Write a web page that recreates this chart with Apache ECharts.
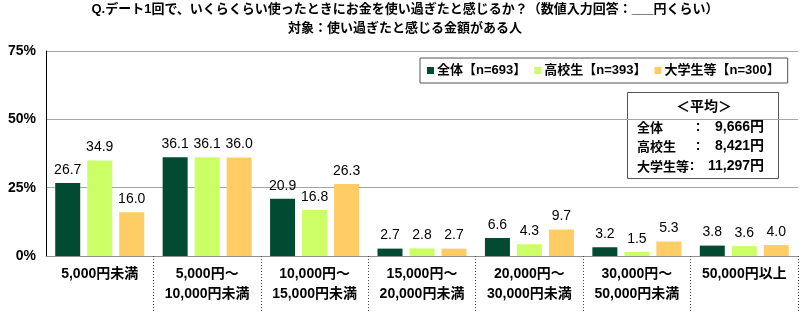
<!DOCTYPE html>
<html>
<head>
<meta charset="utf-8">
<script src="https://cdn.jsdelivr.net/npm/echarts@6/dist/echarts.min.js"></script>
<style>
  html, body { margin: 0; padding: 0; background: #fff; }
  #chart { width: 810px; height: 323px; }
</style>
</head>
<body>
<div id="chart"></div>
<script>
// Spending amounts at which a date feels too expensive
const categories = [
  '5,000円未満',
  '5,000円～\n10,000円未満',
  '10,000円～\n15,000円未満',
  '15,000円～\n20,000円未満',
  '20,000円～\n30,000円未満',
  '30,000円～\n50,000円未満',
  '50,000円以上'
];
const seriesNames = ['全体【n=693】', '高校生【n=393】', '大学生等【n=300】'];
const totalValues = [26.7, 36.1, 20.9, 2.7, 6.6, 3.2, 3.8];
const highSchoolValues = [34.9, 36.1, 16.8, 2.8, 4.3, 1.5, 3.6];
const universityValues = [16.0, 36.0, 26.3, 2.7, 9.7, 5.3, 4.0];
const yTicks = [0, 25, 50, 75];
const titleLines = [
  'Q.デート1回で、いくらくらい使ったときにお金を使い過ぎたと感じるか？（数値入力回答：___円くらい）',
  '対象：使い過ぎたと感じる金額がある人'
];
const averageHeading = '＜平均＞';
const averageLabels = ['全体', '高校生', '大学生等'];
const averageValues = ['9,666円', '8,421円', '11,297円'];

const colors = ['#024B32', '#CCFF66', '#FFCC66'];
const jpFont = '"Noto Sans CJK JP", sans-serif';
const mixFont = '"Liberation Sans", "Noto Sans CJK JP", sans-serif';
const numFont = '"Liberation Sans", Arial, sans-serif';

const chart = echarts.init(document.getElementById('chart'), null, { renderer: 'canvas' });

function barSeries(name, data, color) {
  return {
    name: name,
    type: 'bar',
    data: data,
    barWidth: 25,
    barGap: '28%',
    itemStyle: { color: color },
    label: {
      show: true,
      position: 'top',
      distance: 6,
      formatter: (p) => p.value.toFixed(1),
      fontFamily: numFont,
      fontSize: 14,
      color: '#000'
    }
  };
}

// Average amount panel
const avgFont = 'bold 14px ' + mixFont;
const avgChildren = [
  {
    type: 'rect',
    shape: { x: 627.5, y: 92.5, width: 151, height: 86 },
    style: { fill: '#fff', stroke: '#555', lineWidth: 1 }
  },
  {
    type: 'text',
    style: {
      x: 704, y: 106, text: averageHeading, align: 'center', verticalAlign: 'middle',
      font: 'bold 14px ' + jpFont, fill: '#000'
    }
  }
];
averageLabels.forEach((lab, i) => {
  const y = 127 + i * 19.5;
  const last = i === averageLabels.length - 1;
  avgChildren.push({
    type: 'text',
    style: {
      x: 637, y: y, text: lab, align: 'left', verticalAlign: 'middle',
      font: 'bold 13px ' + jpFont, fill: '#000'
    }
  });
  avgChildren.push({
    type: 'text',
    style: {
      x: last ? 692 : 698, y: y, text: ':', align: 'center', verticalAlign: 'middle',
      font: avgFont, fill: '#000'
    }
  });
  avgChildren.push({
    type: 'text',
    style: {
      x: 764, y: y, text: averageValues[i], align: 'right', verticalAlign: 'middle',
      font: avgFont, fill: '#000'
    }
  });
});

const titleStyle = {
  fontFamily: mixFont,
  fontWeight: 'bold',
  fontSize: 13,
  color: '#000'
};

chart.setOption({
  animation: false,
  backgroundColor: '#fff',
  color: colors,
  title: [
    { text: titleLines[0], left: 'center', top: 3, padding: 0, textStyle: titleStyle },
    { text: titleLines[1], left: 'center', top: 22, padding: 0, textStyle: titleStyle }
  ],
  legend: {
    data: seriesNames,
    left: 420,
    top: 58,
    padding: [6, 8, 6, 7],
    itemWidth: 7,
    itemHeight: 7,
    itemGap: 8,
    icon: 'rect',
    borderColor: '#555',
    borderWidth: 1,
    backgroundColor: '#fff',
    textStyle: {
      fontFamily: mixFont,
      fontWeight: 'bold',
      fontSize: 13,
      color: '#000',
      padding: [0, 0, 0, -2]
    }
  },
  grid: { left: 46, right: 12, top: 51, bottom: 67 },
  xAxis: {
    type: 'category',
    data: categories,
    axisLine: { lineStyle: { color: '#909090', width: 1 } },
    axisTick: {
      show: true,
      length: 57,
      interval: (index) => index > 0,
      lineStyle: { color: '#444', type: [1, 2] }
    },
    axisLabel: {
      interval: 0,
      margin: 8,
      fontFamily: mixFont,
      fontWeight: 'bold',
      fontSize: 14,
      lineHeight: 20,
      color: '#000'
    }
  },
  yAxis: {
    type: 'value',
    min: yTicks[0],
    max: yTicks[yTicks.length - 1],
    interval: yTicks[1] - yTicks[0],
    axisLine: { show: true, lineStyle: { color: '#000', width: 1 } },
    axisTick: { show: false },
    splitLine: { lineStyle: { color: '#a6a6a6', width: 1 } },
    axisLabel: {
      formatter: '{value}%',
      margin: 10,
      fontFamily: numFont,
      fontWeight: 'bold',
      fontSize: 14,
      color: '#000'
    }
  },
  series: [
    barSeries(seriesNames[0], totalValues, colors[0]),
    barSeries(seriesNames[1], highSchoolValues, colors[1]),
    barSeries(seriesNames[2], universityValues, colors[2])
  ],
  graphic: [{ type: 'group', silent: true, children: avgChildren }]
});
</script>
</body>
</html>
